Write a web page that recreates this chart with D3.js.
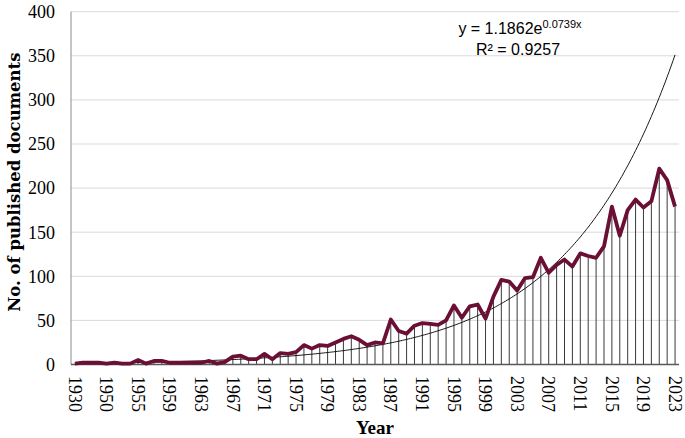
<!DOCTYPE html>
<html><head><meta charset="utf-8">
<script src="https://cdn.jsdelivr.net/npm/d3@7"></script>
<style>body{margin:0;background:#fff}svg{display:block}</style>
</head><body>
<svg id="chart" width="685" height="438"></svg>
<script>
const categories = ["1930","1936","1940","1945","1950","1952","1953","1954",
"1955","1956","1957","1958","1959","1960","1961","1962","1963","1964","1965","1966",
"1967","1968","1969","1970","1971","1972","1973","1974","1975","1976","1977","1978",
"1979","1980","1981","1982","1983","1984","1985","1986","1987","1988","1989","1990",
"1991","1992","1993","1994","1995","1996","1997","1998","1999","2000","2001","2002",
"2003","2004","2005","2006","2007","2008","2009","2010","2011","2012","2013","2014",
"2015","2016","2017","2018","2019","2020","2021","2022","2023"];
const documents = [1,2,2,2,1,2,1,1,
5,1,4,4,2,2,2,2,2,4,1,3,
9,10,6,6,12,6,13,12,14,22,18,22,
21,25,29,32,28,22,25,24,51,38,35,44,
47,46,45,50,67,53,66,68,52,77,96,94,
84,98,99,121,104,113,119,111,126,123,121,134,
179,146,175,187,178,185,222,209,179];
const yTicks = [0,50,100,150,200,250,300,350,400];
const trendA = 1.1862, trendB = 0.0739;
const eqMain = "y = 1.1862e", eqSup = "0.0739x", r2Text = "R² = 0.9257";

(function () {
const svg = d3.select("#chart");
const pL = 71, pR = 679, pT = 11.7, pB = 364.5;
const x = d3.scaleBand().domain(categories).range([pL, pR]);
const y = d3.scaleLinear().domain([0, 400]).range([pB, pT]);
const cx = c => x(c) + x.bandwidth() / 2;

// gridlines
svg.append("g").selectAll("line").data(yTicks.filter(d => d > 0)).join("line")
  .attr("x1", pL).attr("x2", pR)
  .attr("y1", d => y(d)).attr("y2", d => y(d))
  .attr("stroke", "#d9d9d9").attr("stroke-width", 1);

// drop lines
svg.append("g").selectAll("line").data(categories).join("line")
  .attr("x1", d => cx(d)).attr("x2", d => cx(d))
  .attr("y1", (d, i) => y(documents[i])).attr("y2", y(0))
  .attr("stroke", "#3a3a3a").attr("stroke-width", 1);

// axes lines
svg.append("line").attr("x1", pL).attr("x2", pL).attr("y1", pT).attr("y2", pB)
  .attr("stroke", "#8c8c8c").attr("stroke-width", 1);
svg.append("line").attr("x1", pL).attr("x2", pR).attr("y1", pB).attr("y2", pB)
  .attr("stroke", "#595959").attr("stroke-width", 1.5);

// trendline
const xi = d3.scaleLinear().domain([1, categories.length])
  .range([cx(categories[0]), cx(categories[categories.length - 1])]);
const tpts = d3.range(1, categories.length + 0.001, 0.25);
svg.append("path").datum(tpts)
  .attr("d", d3.line().x(t => xi(t)).y(t => y(trendA * Math.exp(trendB * t))))
  .attr("fill", "none").attr("stroke", "#000").attr("stroke-width", 0.9);

// data line
svg.append("path").datum(categories)
  .attr("d", d3.line().x(d => cx(d)).y((d, i) => y(documents[i])))
  .attr("fill", "none").attr("stroke", "#6b0f35").attr("stroke-width", 3.8)
  .attr("stroke-linejoin", "round");

// y tick labels
svg.append("g").selectAll("text").data(yTicks).join("text")
  .attr("x", 55).attr("y", d => y(d)).attr("dy", "0.35em")
  .attr("text-anchor", "end")
  .attr("font-family", "Liberation Serif, serif").attr("font-size", 18).attr("fill", "#000")
  .text(d => d);

// x tick labels (every 4th category)
svg.append("g").selectAll("text").data(categories.filter((d, i) => i % 4 === 0)).join("text")
  .attr("transform", d => `translate(${cx(d)},376) rotate(90)`)
  .attr("dy", "0.35em").attr("text-anchor", "start")
  .attr("font-family", "Liberation Serif, serif").attr("font-size", 18).attr("fill", "#000")
  .text(d => d);

// axis titles
svg.append("text").attr("x", (pL + pR) / 2).attr("y", 434)
  .attr("text-anchor", "middle").attr("font-family", "Liberation Serif, serif")
  .attr("font-weight", "bold").attr("font-size", 19).text("Year");
svg.append("text").attr("transform", `translate(14,${(pT + pB) / 2 - 6}) rotate(-90)`)
  .attr("text-anchor", "middle").attr("dy", "0.35em").attr("font-family", "DejaVu Serif, serif")
  .attr("font-weight", "bold").attr("font-size", 16.5).text("No. of published documents");

// equation
const eq = svg.append("text").attr("x", 520).attr("y", 34).attr("text-anchor", "middle")
  .attr("font-family", "Liberation Sans, sans-serif").attr("font-size", 16).attr("fill", "#000");
eq.append("tspan").text(eqMain);
eq.append("tspan").attr("dy", -6).attr("font-size", 11).text(eqSup);
svg.append("text").attr("x", 518).attr("y", 55).attr("text-anchor", "middle")
  .attr("font-family", "Liberation Sans, sans-serif").attr("font-size", 16).attr("fill", "#000")
  .text(r2Text);
})();
</script>
</body></html>
